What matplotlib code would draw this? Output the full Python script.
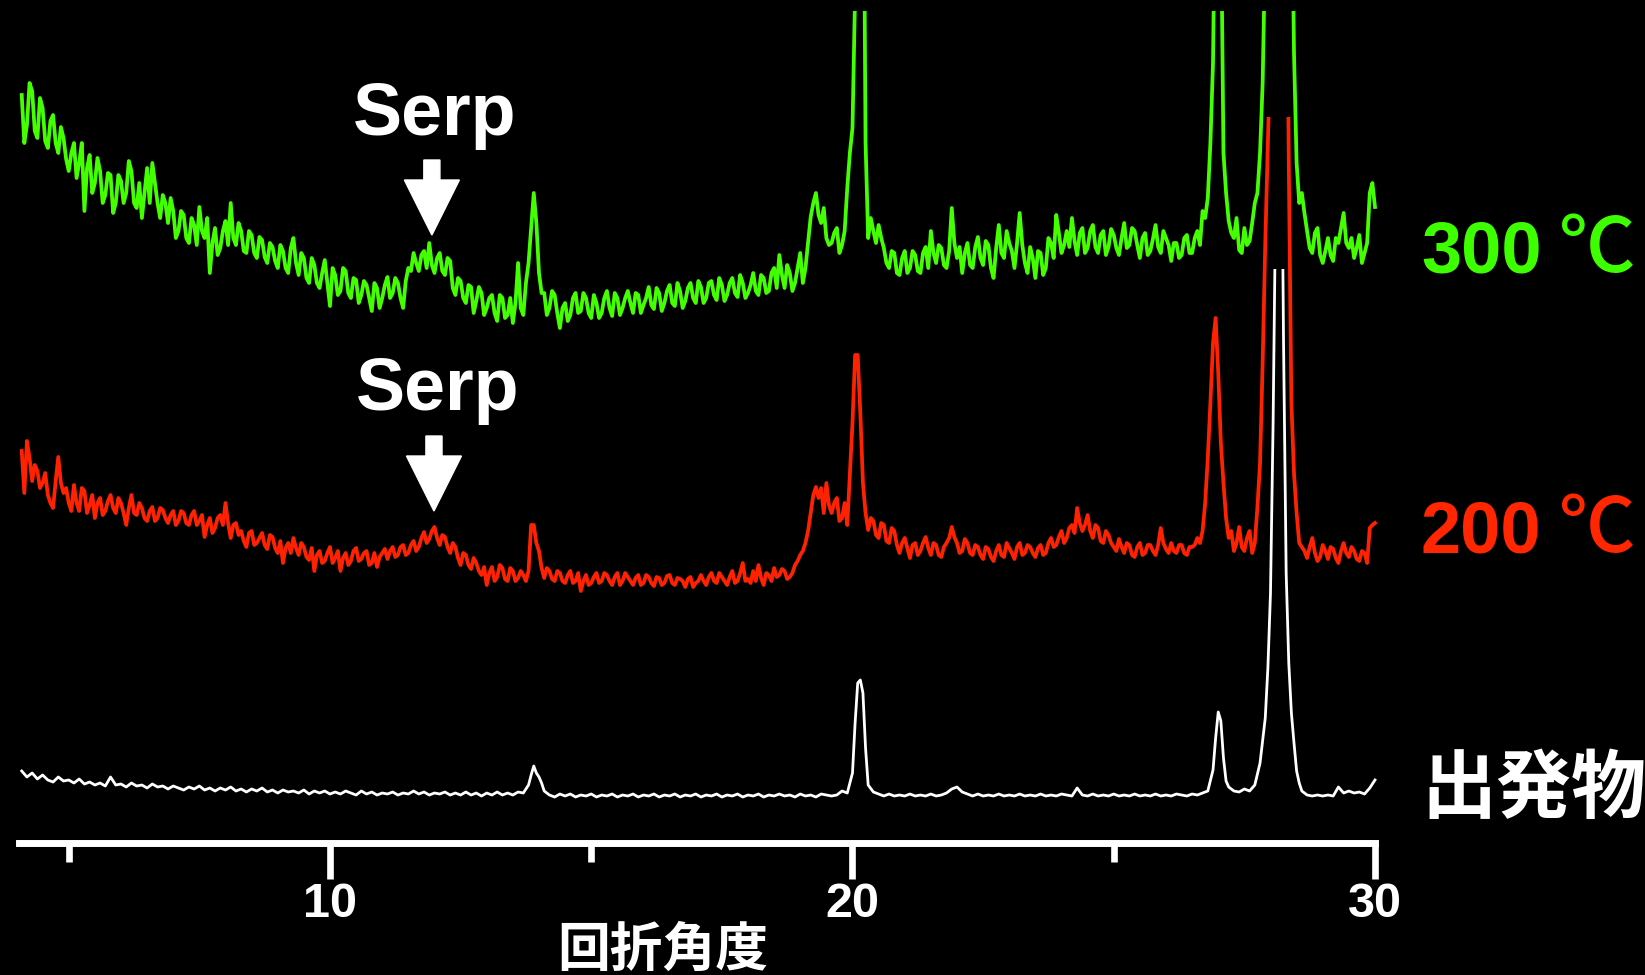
import numpy as np
import matplotlib.pyplot as plt
from matplotlib.patches import Polygon, Rectangle
from matplotlib.transforms import ScaledTranslation

plt.rcParams['font.family'] = ['Liberation Sans', 'Noto Sans CJK JP', 'DejaVu Sans']
plt.rcParams['font.weight'] = 'bold'

# 2θ grid (0.1 deg step) and the half-step points in between
two_theta = np.round(np.arange(4.1, 30.05, 0.1), 2)
two_theta_mid = np.round(two_theta[:-1] + 0.05, 2)

# 300 ℃ sample
green_300 = [
    748, 718, 752, 705, 735, 695, 728, 690, 705, 672,
    700, 680, 632, 688, 660, 672, 648, 668, 640, 662,
    650, 672, 635, 625, 675, 680, 640, 648, 620, 632,
    612, 628, 600, 618, 636, 605, 570, 615, 595, 622,
    640, 598, 612, 590, 608, 585, 603, 580, 596, 575,
    592, 570, 605, 568, 585, 560, 578, 555, 583, 537,
    568, 552, 572, 545, 563, 548, 558, 532, 555, 545,
    566, 550, 560, 535, 575, 590, 572, 592, 600, 570,
    590, 568, 582, 548, 562, 540, 556, 542, 550, 535,
    548, 522, 545, 528, 520, 580, 528, 580, 650, 570,
    550, 535, 548, 515, 540, 528, 550, 532, 545, 525,
    540, 530, 552, 527, 545, 535, 552, 530, 548, 538,
    556, 534, 550, 540, 558, 537, 552, 542, 560, 540,
    556, 545, 562, 543, 558, 548, 565, 546, 560, 550,
    570, 548, 565, 552, 575, 588, 555, 570, 560, 590,
    575, 626, 650, 620, 605, 600, 615, 598, 655, 715,
    1300, 1100, 605, 612, 618, 595, 575, 590, 568, 592,
    575, 588, 570, 596, 612, 580, 595, 575, 635, 585,
    570, 600, 575, 606, 578, 598, 565, 618, 585, 600,
    575, 630, 580, 596, 565, 590, 575, 600, 628, 590,
    612, 625, 588, 615, 595, 618, 590, 612, 596, 608,
    588, 620, 598, 612, 585, 610, 592, 618, 590, 605,
    582, 600, 588, 608, 590, 612, 632, 645, 780, 1400,
    690, 622, 605, 593, 615, 602, 640, 690, 900, 1500,
    2000, 2200, 2000, 1000, 680, 650, 612, 590, 615, 580,
    605, 582, 600, 630, 595, 585, 608, 590, 650, 636,
]
green_300_mid = [
    700, 760, 712, 745, 702, 722, 700, 716, 684, 690,
    665, 700, 675, 650, 685, 640, 670, 630, 668, 640,
    682, 640, 660, 650, 640, 660, 625, 640, 645, 605,
    632, 605, 625, 598, 612, 625, 600, 588, 612, 598,
    605, 620, 592, 612, 590, 606, 586, 600, 582, 598,
    575, 595, 580, 590, 565, 585, 560, 570, 560, 575,
    548, 575, 550, 565, 540, 562, 545, 560, 535, 558,
    545, 565, 545, 562, 572, 580, 588, 575, 578, 585,
    572, 585, 555, 565, 545, 558, 530, 556, 528, 545,
    530, 548, 525, 545, 540, 535, 560, 615, 620, 550,
    528, 552, 530, 535, 522, 545, 530, 550, 530, 548,
    525, 545, 535, 550, 528, 545, 540, 550, 530, 545,
    538, 555, 532, 552, 540, 560, 535, 555, 545, 562,
    540, 560, 548, 565, 542, 560, 550, 568, 545, 558,
    552, 568, 550, 570, 555, 568, 578, 552, 575, 560,
    600, 640, 628, 635, 598, 610, 590, 612, 690, 850,
    1300, 700, 625, 600, 605, 580, 592, 570, 585, 570,
    592, 572, 590, 575, 590, 598, 578, 592, 600, 596,
    590, 578, 596, 585, 602, 575, 595, 590, 612, 592,
    600, 598, 570, 585, 592, 568, 605, 585, 610, 598,
    596, 602, 610, 590, 612, 596, 608, 588, 614, 595,
    605, 595, 615, 598, 605, 588, 604, 596, 612, 598,
    600, 585, 605, 590, 605, 598, 625, 700, 1000, 950,
    650, 610, 625, 590, 598, 620, 650, 760, 1200, 1800,
    2100, 2100, 1500, 790, 640, 630, 595, 610, 588, 592,
    588, 605, 615, 600, 605, 595, 580, 600, 660,
]

# 200 ℃ sample
red_200 = [
    392, 402, 362, 372, 360, 348, 335, 386, 350, 340,
    358, 332, 352, 338, 325, 345, 332, 348, 330, 340,
    318, 348, 328, 335, 322, 336, 325, 333, 320, 332,
    322, 330, 318, 332, 322, 306, 325, 315, 328, 340,
    305, 320, 312, 296, 312, 300, 310, 294, 306, 290,
    280, 300, 305, 288, 296, 283, 272, 292, 282, 296,
    285, 272, 290, 282, 295, 284, 292, 280, 276, 290,
    284, 296, 288, 298, 290, 302, 296, 311, 304, 316,
    298, 306, 290, 296, 278, 288, 274, 280, 268, 258,
    276, 266, 275, 262, 272, 265, 268, 272, 318, 292,
    265, 272, 262, 270, 260, 272, 262, 252, 268, 260,
    270, 262, 268, 258, 270, 262, 266, 258, 268, 260,
    266, 257, 265, 260, 268, 258, 264, 256, 266, 260,
    268, 258, 270, 260, 266, 258, 272, 262, 280, 264,
    272, 278, 258, 268, 275, 268, 272, 266, 278, 288,
    300, 330, 356, 355, 360, 330, 345, 325, 318, 420,
    488, 360, 313, 322, 305, 318, 300, 312, 290, 305,
    285, 300, 292, 306, 288, 298, 286, 300, 316, 300,
    292, 300, 288, 296, 284, 294, 282, 298, 286, 295,
    284, 300, 290, 296, 286, 298, 290, 305, 298, 312,
    305, 318, 335, 312, 328, 305, 315, 300, 308, 296,
    304, 290, 298, 286, 300, 290, 298, 288, 315, 294,
    300, 290, 298, 288, 296, 305, 312, 385, 500, 470,
    360, 305, 292, 316, 292, 312, 300, 380, 600, 800,
    1200, 1300, 1000, 440, 330, 296, 285, 305, 282, 298,
    284, 294, 280, 300, 286, 292, 282, 290, 315, 320,
]
red_200_mid = [
    350, 385, 378, 355, 370, 340, 362, 360, 355, 332,
    340, 355, 330, 348, 340, 328, 342, 335, 345, 330,
    335, 330, 340, 325, 332, 322, 335, 325, 328, 318,
    332, 320, 328, 318, 328, 318, 310, 325, 318, 320,
    318, 308, 302, 310, 298, 305, 298, 308, 295, 302,
    295, 290, 295, 300, 286, 295, 288, 280, 290, 280,
    292, 285, 278, 292, 282, 290, 278, 290, 286, 294,
    292, 286, 296, 288, 298, 292, 305, 300, 312, 305,
    308, 296, 300, 285, 290, 278, 285, 272, 276, 270,
    262, 278, 264, 275, 262, 272, 262, 318, 300, 275,
    275, 264, 272, 262, 268, 260, 270, 262, 258, 266,
    260, 270, 262, 266, 258, 270, 262, 265, 258, 268,
    260, 266, 258, 267, 260, 265, 262, 264, 256, 262,
    262, 266, 262, 270, 262, 266, 260, 270, 262, 260,
    262, 265, 270, 262, 266, 274, 264, 270, 282, 292,
    312, 348, 345, 330, 338, 340, 322, 340, 370, 488,
    430, 330, 325, 308, 320, 302, 315, 298, 300, 295,
    298, 288, 300, 295, 300, 288, 296, 305, 306, 290,
    304, 290, 298, 288, 296, 286, 292, 288, 300, 290,
    296, 288, 298, 290, 295, 288, 300, 296, 306, 300,
    315, 310, 320, 318, 312, 318, 302, 312, 300, 292,
    296, 300, 288, 296, 288, 298, 292, 298, 300, 290,
    292, 298, 290, 296, 298, 300, 340, 440, 525, 400,
    325, 312, 300, 296, 305, 290, 336, 480, 700, 1000,
    1250, 1200, 680, 370, 300, 292, 296, 290, 286, 292,
    296, 285, 292, 290, 296, 284, 292, 280, 318,
]

# starting material (出発物)
white_start = [
    72, 66, 70, 64, 68, 63, 61, 66, 62, 63,
    60, 64, 59, 61, 58, 60, 57, 66, 58, 59,
    56, 60, 57, 58, 55, 59, 56, 57, 54, 57,
    55, 53, 56, 54, 57, 53, 55, 52, 55, 53,
    56, 52, 54, 51, 54, 52, 55, 51, 53, 50,
    53, 51, 52, 50, 53, 49, 52, 50, 52, 49,
    51, 49, 52, 50, 48, 52, 49, 51, 48, 50,
    49, 51, 48, 50, 49, 52, 49, 51, 48, 50,
    49, 51, 48, 50, 48, 51, 48, 50, 47, 50,
    48, 51, 48, 50, 48, 51, 50, 58, 77, 66,
    52, 48, 46, 49, 47, 49, 46, 48, 47, 49,
    46, 48, 47, 49, 46, 48, 47, 49, 46, 48,
    47, 49, 46, 48, 47, 49, 46, 48, 47, 49,
    46, 48, 47, 49, 46, 48, 47, 49, 46, 48,
    47, 49, 46, 48, 47, 49, 47, 48, 46, 49,
    47, 48, 46, 49, 48, 47, 48, 52, 50, 70,
    160, 150, 58, 51, 49, 47, 49, 47, 48, 47,
    49, 47, 48, 47, 49, 47, 48, 50, 54, 56,
    51, 49, 47, 49, 47, 48, 47, 49, 47, 48,
    47, 49, 47, 48, 47, 49, 47, 48, 47, 49,
    48, 47, 55, 48, 47, 49, 47, 48, 47, 49,
    47, 48, 47, 49, 47, 48, 47, 49, 47, 48,
    47, 49, 48, 47, 49, 48, 50, 52, 73, 131,
    85, 56, 52, 51, 54, 52, 58, 80, 125, 250,
    650, 800, 270, 130, 72, 52, 48, 47, 48, 47,
    48, 47, 56, 50, 52, 50, 51, 49, 55, 63,
]
white_x_extra = [13.85, 13.95, 14.05, 20.05, 20.15, 20.25, 26.95, 27.05,
                 27.15, 27.95, 28.05, 28.15, 28.25, 28.35, 28.45, 28.55]
white_y_extra = [68, 70, 60, 120, 163, 95, 105, 122,
                 62, 175, 420, 900, 500, 180, 100, 60]

# detector cut-off of each pattern (peaks are drawn truncated)
cut_green, cut_red, cut_white = 832, 726, 574


def merge(x_a, y_a, x_b, y_b):
    x = np.concatenate([x_a, x_b])
    y = np.concatenate([np.asarray(y_a, float), np.asarray(y_b, float)])
    order = np.argsort(x, kind='stable')
    return x[order], y[order]


def down_arrow(ax, x, y_tip):
    # arrow shape in points, tip anchored on data point
    pts = np.array([[0, 0], [-19.8, 39.6], [-5.8, 39.6], [-5.8, 54],
                    [5.8, 54], [5.8, 39.6], [19.8, 39.6]]) / 72.0
    tr = ax.figure.dpi_scale_trans + ScaledTranslation(x, y_tip, ax.transData)
    ax.add_patch(Polygon(pts, closed=True, transform=tr, color='white',
                         clip_on=False, zorder=5))


def temp_label(ax, y, num, color):
    ax.text(30.88, y, num, color=color, fontsize=52, fontweight='bold',
            ha='left', va='baseline', clip_on=False)
    ax.text(33.52, y, '℃', color=color, fontsize=55, fontweight='medium',
            ha='left', va='baseline', clip_on=False,
            family=['Noto Sans CJK JP', 'DejaVu Sans'])


fig = plt.figure(figsize=(16.45, 9.75), dpi=100, facecolor='black')
ax = fig.add_axes([0.01161, 0.13538, 0.82425, 0.86462])
ax.set_facecolor('black')
ax.set_xlim(4.05, 30.0)
ax.set_ylim(0, 843)

traces = [
    (merge(two_theta, green_300, two_theta_mid, green_300_mid), '#44FF00', 2.7, cut_green),
    (merge(two_theta, red_200, two_theta_mid, red_200_mid), '#FF2200', 2.7, cut_red),
    (merge(two_theta, white_start, white_x_extra, white_y_extra), 'white', 2.0, cut_white),
]
for (x, y), color, lw, cut in traces:
    line, = ax.plot(x, y, color=color, lw=lw)
    clip = Rectangle((4.0, -10), 26.5, cut + 10, transform=ax.transData)
    line.set_clip_path(clip)

# Serp markers
ax.text(12.0, 708, 'Serp', color='white', fontsize=53, fontweight='bold',
        ha='center', va='baseline')
down_arrow(ax, 11.95, 608)
ax.text(12.07, 433, 'Serp', color='white', fontsize=53, fontweight='bold',
        ha='center', va='baseline')
down_arrow(ax, 11.99, 332)

# sample labels on the right
temp_label(ax, 571, '300', '#3DFF00')
temp_label(ax, 291, '200', '#FF2600')
ax.text(30.88, 31, '出発物', color='white', fontsize=54, fontweight='bold',
        ha='left', va='baseline', clip_on=False,
        family=['Noto Sans CJK JP', 'DejaVu Sans'])

# axis
for s in ['top', 'left', 'right']:
    ax.spines[s].set_visible(False)
ax.spines['bottom'].set_color('white')
ax.spines['bottom'].set_linewidth(5)
ax.set_yticks([])
ax.set_xticks([10, 20, 30])
ax.set_xticks([5, 15, 25], minor=True)
ax.tick_params(axis='x', which='major', direction='out', length=26, width=4.8,
               color='white', labelcolor='white', labelsize=35, pad=2)
ax.tick_params(axis='x', which='minor', direction='out', length=14, width=4.8,
               color='white')
for lab in ax.get_xticklabels():
    lab.set_fontweight('bold')

ax.annotate('回折角度', xy=(16.37, 9), xycoords=('data', 'figure pixels'),
            color='white', fontsize=38, fontweight='bold', ha='center',
            va='baseline', family=['Noto Sans CJK JP', 'DejaVu Sans'],
            annotation_clip=False)

fig.savefig('out.png', dpi=100, facecolor='black')
